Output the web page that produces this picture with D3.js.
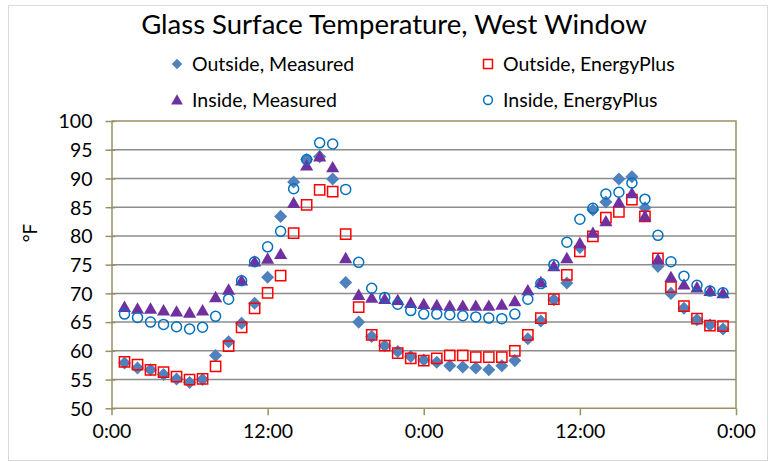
<!DOCTYPE html>
<html>
<head>
<meta charset="utf-8">
<script src="https://cdn.jsdelivr.net/npm/d3@7"></script>
<style>
  html, body { margin: 0; padding: 0; background: #fff; }
  svg { display: block; }
  text { font-family: Lato, "Liberation Sans", sans-serif; fill: #000; }
</style>
</head>
<body>
<svg id="chart" width="772" height="462"></svg>
<script>
// ---- data (hours 1..47) ----
const hours = d3.range(1, 48);
const outsideMeasured = [57.9,57.0,56.7,55.9,55.1,54.5,55.0,59.2,61.6,64.8,68.3,72.8,83.4,89.4,93.3,93.8,89.9,71.9,65.0,62.5,60.9,59.9,59.0,58.4,58.0,57.4,57.2,57.0,56.7,57.4,58.3,62.1,65.2,68.9,71.8,78.0,84.5,85.9,89.9,90.3,84.9,74.7,70.0,67.4,65.4,64.5,63.8];
const outsideEnergyPlus = [58.1,57.6,56.7,56.3,55.5,55.0,55.1,57.3,60.8,64.1,67.4,70.1,73.1,80.5,85.4,88.0,87.7,80.3,67.6,62.8,60.9,59.6,58.7,58.3,58.7,59.2,59.2,58.9,58.9,58.9,60.0,62.8,65.7,69.0,73.2,77.3,79.9,83.2,84.2,86.3,83.4,76.1,71.1,67.8,65.6,64.4,64.3];
const insideMeasured = [67.6,67.3,67.3,67.0,66.8,66.6,67.0,69.3,70.6,72.2,75.5,76.0,76.8,85.7,92.2,93.8,91.9,76.1,69.7,69.2,69.0,68.8,68.3,68.1,67.9,67.8,67.8,67.8,67.8,68.0,68.6,70.5,71.9,74.7,76.1,78.7,80.5,82.5,85.8,87.4,83.4,75.9,72.8,71.5,71.0,70.4,70.0];
const insideEnergyPlus = [66.4,65.8,65.0,64.6,64.2,63.8,64.1,66.0,69.0,72.2,75.5,78.1,80.8,88.2,93.3,96.2,96.0,88.1,75.4,70.9,69.3,68.1,67.0,66.4,66.4,66.3,66.1,65.9,65.7,65.6,66.4,69.0,71.7,75.0,78.9,82.9,84.8,87.3,87.6,89.2,86.4,80.1,75.5,73.0,71.4,70.4,70.1];
const xTickValues = [0, 12, 24, 36, 48];
const xTickLabels = ["0:00", "12:00", "0:00", "12:00", "0:00"];
const yTickValues = [50, 55, 60, 65, 70, 75, 80, 85, 90, 95, 100];
const seriesNames = ["Outside, Measured", "Outside, EnergyPlus", "Inside, Measured", "Inside, EnergyPlus"];
const titleText = "Glass Surface Temperature, West Window";
const yLabel = "°F";

// ---- layout ----
const svg = d3.select("#chart");
const L = 111.5, R = 736, T = 121, B = 408.3;
const axisColor = "#9a9060";
const gridColor = "#8c8c8c";

const x = d3.scaleLinear().domain([0, 48]).range([L, R]);
const y = d3.scaleLinear().domain([50, 100]).range([B, T]);

// outer border
svg.append("rect").attr("x", 8.5).attr("y", 5.5).attr("width", 759).attr("height", 455)
  .attr("fill", "#fff").attr("stroke", "#d9d9d9").attr("stroke-width", 1);

// title
svg.append("text").attr("x", 394).attr("y", 34).attr("text-anchor", "middle")
  .style("font-size", "27.5px").text(titleText);

// gridlines
svg.append("g").selectAll("line").data(yTickValues.filter(v => v > 50 && v < 100)).join("line")
  .attr("x1", L).attr("x2", R).attr("y1", d => y(d)).attr("y2", d => y(d))
  .attr("stroke", gridColor).attr("stroke-width", 1.5);

// plot border (top/right)
svg.append("path").attr("d", `M${L},${T}H${R}V${B}`).attr("fill", "none")
  .attr("stroke", axisColor).attr("stroke-width", 1.5);

// y axis
const yAxis = d3.axisLeft(y).tickValues(yTickValues).tickSize(0).tickPadding(19);
const gy = svg.append("g").attr("transform", `translate(${L},0)`).call(yAxis);
gy.select(".domain").attr("stroke", axisColor).attr("stroke-width", 1.5);
gy.selectAll(".tick line").remove();
gy.selectAll(".tick").append("line").attr("x1", -6).attr("x2", 4).attr("stroke", axisColor).attr("stroke-width", 1.5);
gy.selectAll(".tick text").style("font-size", "19.5px").style("font-family", "Lato, sans-serif").attr("fill", "#000").attr("dy", "0.35em");

// x axis
const xAxis = d3.axisBottom(x).tickValues(xTickValues).tickFormat((d, i) => xTickLabels[i]).tickSize(7).tickPadding(9);
const gx = svg.append("g").attr("transform", `translate(0,${B})`).call(xAxis);
gx.select(".domain").attr("stroke", axisColor).attr("stroke-width", 1.5).attr("d", `M${L},0H${R}`);
gx.selectAll(".tick line").attr("stroke", axisColor).attr("stroke-width", 1.5);
gx.selectAll(".tick text").style("font-size", "19.5px").style("font-family", "Lato, sans-serif").attr("fill", "#000");

// y label
svg.append("text").attr("transform", "translate(37,233) rotate(-90)").attr("text-anchor", "middle")
  .style("font-size", "19px").text(yLabel);

// markers
const square = d3.symbol().type(d3.symbolSquare).size(105);
const triangle = d3.symbol().type(d3.symbolTriangle).size(75);

const styles = [
  {data: outsideMeasured, draw: g => g.append("path").attr("d", d3.symbol().type(d3.symbolSquare).size(85)()).attr("transform", "rotate(45)").attr("fill", "#4f81bd")},
  {data: outsideEnergyPlus, draw: g => g.append("path").attr("d", square()).attr("fill", "none").attr("stroke", "#ff0000").attr("stroke-width", 1.5)},
  {data: insideMeasured, draw: g => g.append("path").attr("d", triangle()).attr("transform", "translate(0,1)").attr("fill", "#7030a0")},
  {data: insideEnergyPlus, draw: g => g.append("circle").attr("r", 5).attr("fill", "none").attr("stroke", "#0070c0").attr("stroke-width", 1.5)}
];

styles.forEach(s => {
  const g = svg.append("g").selectAll("g").data(hours.map((h, i) => [h, s.data[i]])).join("g")
    .attr("transform", d => `translate(${x(d[0])},${y(d[1])})`);
  g.each(function() { s.draw(d3.select(this)); });
});

// legend
const legendPos = [[177, 64], [488, 64], [177, 100], [488, 100]];
styles.forEach((s, i) => {
  const g = svg.append("g").attr("transform", `translate(${legendPos[i][0]},${legendPos[i][1]})`);
  const m = g.append("g");
  s.draw(m);
  if (i === 0) m.select("path").attr("d", d3.symbol().type(d3.symbolSquare).size(55)());
  if (i === 1) m.select("path").attr("d", d3.symbol().type(d3.symbolSquare).size(80)());
  if (i === 2) m.select("path").attr("d", d3.symbol().type(d3.symbolTriangle).size(60)());
  if (i === 3) m.select("circle").attr("r", 4.4);
  g.append("text").attr("x", 15).attr("y", 0).attr("dy", "0.35em").style("font-size", "19.5px").text(seriesNames[i]);
});
</script>
</body>
</html>
